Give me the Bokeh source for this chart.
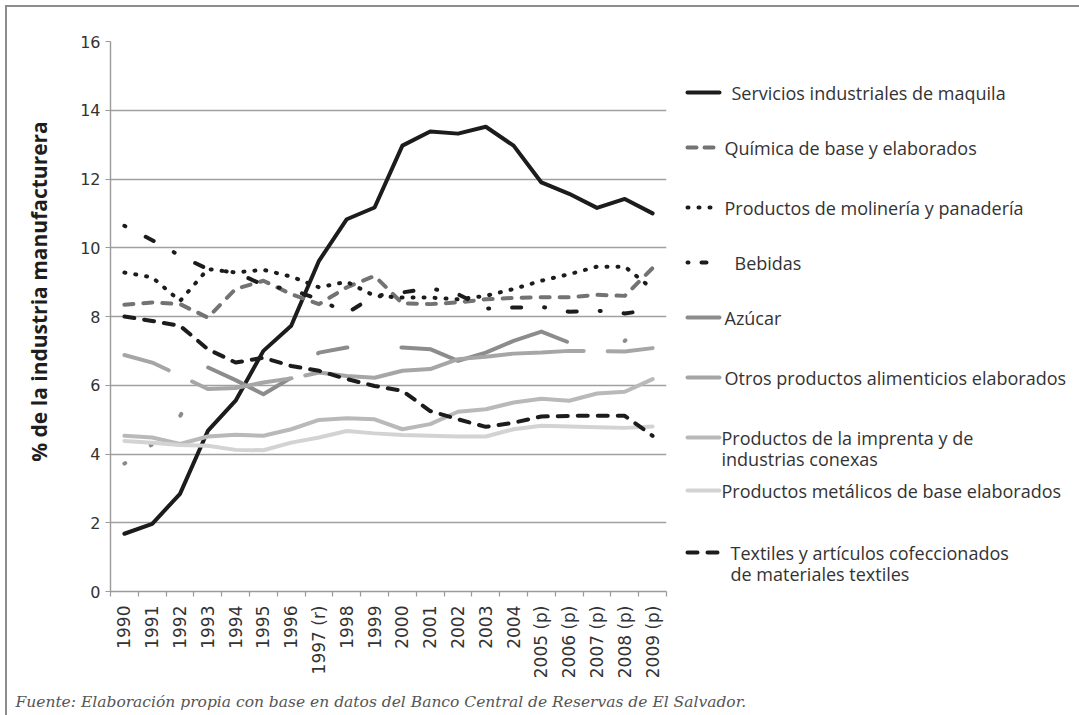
import math
from bokeh.plotting import figure
from bokeh.layouts import row, column
from bokeh.models import Range1d, FixedTicker
from bokeh.core.properties import value
from bokeh.embed import file_html
from bokeh.resources import INLINE

# ---------------- data ----------------
years = ["1990", "1991", "1992", "1993", "1994", "1995", "1996", "1997 (r)", "1998", "1999",
         "2000", "2001", "2002", "2003", "2004", "2005 (p)", "2006 (p)", "2007 (p)", "2008 (p)", "2009 (p)"]

maquila = [1.68, 1.97, 2.84, 4.67, 5.55, 7.00, 7.73, 9.62, 10.83, 11.17,
           12.97, 13.38, 13.32, 13.52, 12.97, 11.90, 11.57, 11.16, 11.42, 11.00]
quimica = [8.34, 8.41, 8.36, 7.97, 8.80, 9.04, 8.65, 8.36, 8.85, 9.18,
           8.38, 8.36, 8.41, 8.50, 8.54, 8.56, 8.56, 8.63, 8.60, 9.41]
molineria = [9.28, 9.14, 8.45, 9.38, 9.28, 9.36, 9.16, 8.85, 9.01, 8.60,
             8.55, 8.55, 8.50, 8.60, 8.80, 9.04, 9.23, 9.45, 9.45, 8.80]
bebidas = [10.64, 10.22, 9.77, 9.38, 9.28, 8.92, 8.78, 8.50, 8.10, 8.60,
           8.70, 8.82, 8.65, 8.23, 8.26, 8.28, 8.14, 8.17, 8.09, 8.20]
azucar = [3.72, 4.28, 5.10, 6.52, 6.15, 5.74, 6.22, 6.95, 7.10, 7.10,
          7.10, 7.05, 6.71, 6.95, 7.29, 7.56, 7.24, 7.20, 7.29, 8.12]
otros = [6.88, 6.66, 6.28, 5.89, 5.92, 6.08, 6.20, 6.37, 6.27, 6.22,
         6.42, 6.47, 6.76, 6.83, 6.92, 6.95, 7.00, 7.00, 6.98, 7.08]
imprenta = [4.53, 4.48, 4.29, 4.51, 4.56, 4.53, 4.72, 4.99, 5.04, 5.01,
            4.72, 4.87, 5.23, 5.30, 5.50, 5.61, 5.55, 5.76, 5.81, 6.18]
metalicos = [4.38, 4.33, 4.26, 4.24, 4.12, 4.11, 4.33, 4.48, 4.67, 4.60,
             4.55, 4.53, 4.51, 4.51, 4.72, 4.82, 4.80, 4.78, 4.76, 4.80]
textiles = [8.00, 7.87, 7.73, 7.05, 6.66, 6.80, 6.56, 6.42, 6.18, 5.98,
            5.84, 5.25, 5.01, 4.79, 4.91, 5.09, 5.11, 5.11, 5.11, 4.53]

legend_labels = [
    "Servicios industriales de maquila",
    "Química de base y elaborados",
    "Productos de molinería y panadería",
    "Bebidas",
    "Azúcar",
    "Otros productos alimenticios elaborados",
    "Productos de la imprenta y de\nindustrias conexas",
    "Productos metálicos de base elaborados",
    "Textiles y artículos cofeccionados\nde materiales textiles",
]
y_ticks = [0, 2, 4, 6, 8, 10, 12, 14, 16]
y_title = "% de la industria manufacturera"
source_note = "Fuente: Elaboración propia con base en datos del Banco Central de Reservas de El Salvador."

series = [maquila, quimica, molineria, bebidas, azucar, otros, imprenta, metalicos, textiles]

# styles: color, width, dash (plot), dash (legend sample)
styles = [
    ("#1c1c1c", 4.0, "solid", "solid"),
    ("#737373", 4.0, "9 10", "9 8"),
    ("#1c1c1c", 4.0, "1 10", "1 10"),
    ("#1c1c1c", 4.0, "1 23 9 23", "1 13 7 40"),
    ("#8c8c8c", 4.0, "1 31 1 41 2 54 92 38 30 54 175 58 1 40 1 100", "solid"),
    ("#a6a6a6", 4.0, "47 26 102 14 282 24 60 40", "solid"),
    ("#b9b9b9", 4.0, "solid", "solid"),
    ("#d3d3d3", 4.0, "solid", "solid"),
    ("#1c1c1c", 4.0, "10 10", "10 10"),
]

xs = list(range(len(years)))

# page geometry (content starts at 7,7)
TOP_B = 34
BOT_B = 92
ROW_H = 676
FR_TOP, FR_BOT = 41, 591   # page y of plot frame

# ---------------- main plot ----------------
main = figure(width=608, height=ROW_H, title=None,
              x_range=Range1d(-0.5, len(years) - 0.5), y_range=Range1d(0, 16),
              output_backend="svg", toolbar_location=None,
              min_border_left=40, min_border_right=12, min_border_top=TOP_B, min_border_bottom=BOT_B)
main.outline_line_color = None
main.background_fill_color = "white"
main.border_fill_color = "white"
main.xgrid.visible = False
main.ygrid.ticker = FixedTicker(ticks=y_ticks)
main.ygrid.grid_line_color = "#a0a0a0"
main.ygrid.grid_line_width = 1.4

ya = main.yaxis[0]
ya.ticker = FixedTicker(ticks=y_ticks)
ya.axis_line_color = "#9a9a9a"
ya.axis_line_width = 1.4
ya.major_tick_line_color = "#9a9a9a"
ya.major_tick_out = 5
ya.major_tick_in = 0
ya.minor_tick_line_color = None
ya.major_label_text_font = "DejaVu Sans"
ya.major_label_text_font_size = "16px"
ya.major_label_text_color = "#333333"
ya.major_label_standoff = 5

xa = main.xaxis[0]
xa.ticker = FixedTicker(ticks=xs, minor_ticks=[i - 0.5 for i in range(len(years) + 1)])
xa.major_label_overrides = {i: lab for i, lab in enumerate(years)}
xa.major_label_orientation = math.pi / 2
xa.axis_line_color = "#9a9a9a"
xa.axis_line_width = 1.4
xa.major_tick_out = 0
xa.major_tick_in = 0
xa.minor_tick_out = 5
xa.minor_tick_in = 0
xa.minor_tick_line_color = "#9a9a9a"
xa.minor_tick_line_width = 1.2
xa.major_label_text_font = "DejaVu Sans"
xa.major_label_text_font_size = "17px"
xa.major_label_text_color = "#333333"
xa.major_label_standoff = 9

for data, (col, w, dash, _) in zip(series, styles):
    main.line(xs, data, line_color=col, line_width=w, line_dash=dash,
              line_cap="round", line_join="round")

# ---------------- y title ----------------
ytf = figure(width=63, height=ROW_H, title=None, x_range=Range1d(7, 70), y_range=Range1d(FR_BOT, FR_TOP),
             output_backend="svg", toolbar_location=None,
             min_border_left=0, min_border_right=0, min_border_top=TOP_B, min_border_bottom=BOT_B,
             x_axis_type=None, y_axis_type=None)
ytf.outline_line_color = None
ytf.grid.visible = False
ytf.text(x=[38], y=[291], text=[y_title], angle=math.pi / 2,
         text_font=value("Open Sans"), text_font_style="bold", text_font_size="21px",
         text_color="#1e1e1e", text_align="center", text_baseline="middle")

# ---------------- legend ----------------
leg = figure(width=401, height=ROW_H, title=None, x_range=Range1d(678, 1079), y_range=Range1d(FR_BOT, FR_TOP),
             output_backend="svg", toolbar_location=None,
             min_border_left=0, min_border_right=0, min_border_top=TOP_B, min_border_bottom=BOT_B,
             x_axis_type=None, y_axis_type=None)
leg.outline_line_color = None
leg.grid.visible = False

leg_y = [92, 147, 207, 262, 317, 377, 437, 490, 552]
leg_tx = [731, 724, 724, 734, 724, 724, 721, 721, 730]
tx, ty, tt = [], [], []
for lab, (col, w, _, sdash), yy, xx in zip(legend_labels, styles, leg_y, leg_tx):
    x0 = 687
    x1 = 719
    if sdash == "1 13 7 40":
        x1 = 706
    leg.line([x0, x1], [yy, yy], line_color=col, line_width=w, line_dash=sdash,
             line_cap="round", line_join="round")
    for k, part in enumerate(lab.split("\n")):
        tx.append(xx)
        ty.append(yy + 21 * k)
        tt.append(part)
leg.text(x=tx, y=ty, text=tt, text_font=value("Open Sans"), text_font_size="18px",
         text_color="#333333", text_align="left", text_baseline="middle")

# ---------------- footer ----------------
foot = figure(width=1072, height=32, title=None, x_range=Range1d(7, 1079), y_range=Range1d(715, 683),
              output_backend="svg", toolbar_location=None, min_border=0,
              x_axis_type=None, y_axis_type=None)
foot.outline_line_color = None
foot.grid.visible = False
foot.text(x=[15], y=[701], text=[source_note], text_font=value("DejaVu Serif"),
          text_font_style="italic", text_font_size="15.5px", text_color="#555555",
          text_align="left", text_baseline="middle")

layout = column(row(ytf, main, leg), foot, margin=(5, 0, 0, 5),
                styles={"border-top": "2px solid #8c8c8c", "border-left": "2px solid #8c8c8c"})

open("out.html", "w").write(file_html(layout, INLINE))
